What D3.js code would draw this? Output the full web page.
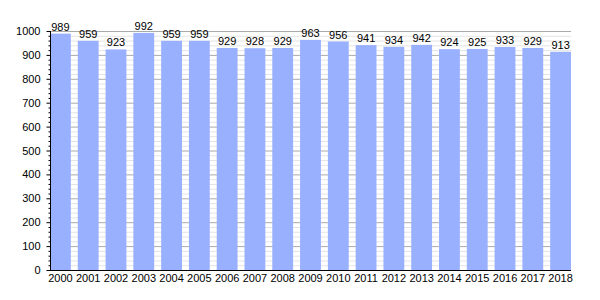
<!DOCTYPE html>
<html><head><meta charset="utf-8">
<script src="https://cdn.jsdelivr.net/npm/d3@7"></script>
<style>body{margin:0;background:#fff}svg{display:block}text{font-family:"Liberation Sans",Arial,sans-serif;font-size:11px;fill:#000}</style>
</head><body><svg id="c" width="600" height="300"></svg>
<script>
const years = ["2000","2001","2002","2003","2004","2005","2006","2007","2008","2009","2010","2011","2012","2013","2014","2015","2016","2017","2018"];
const population = [989,959,923,992,959,959,929,928,929,963,956,941,934,942,924,925,933,929,913];
const yTicks = [0,100,200,300,400,500,600,700,800,900,1000];

(function(){
const svg = d3.select("#c");
const mLeft = 50, mRight = 571, mTop = 31, mBottom = 270;
const x = d3.scaleBand().domain(years).range([mLeft, mRight]).paddingInner(0.25).paddingOuter(0);
const y = d3.scaleLinear().domain([0,1000]).range([mBottom, mTop]);

const minor = d3.range(0, 1001, 20).filter(v => v % 100 !== 0);
svg.append("g").selectAll("line").data(minor).join("line")
  .attr("x1", mLeft).attr("x2", mRight).attr("y1", d => y(d)+0.5).attr("y2", d => y(d)+0.5)
  .attr("stroke", "#e4e4e4").attr("stroke-width", 1);
svg.append("g").selectAll("line").data(yTicks.filter(v => v > 0)).join("line")
  .attr("x1", mLeft).attr("x2", mRight).attr("y1", d => y(d)+0.5).attr("y2", d => y(d)+0.5)
  .attr("stroke", "#aaaaaa").attr("stroke-width", 1);

svg.append("g").selectAll("rect").data(population).join("rect")
  .attr("x", (d,i) => x(years[i])).attr("width", x.bandwidth())
  .attr("y", d => y(d)).attr("height", d => mBottom - y(d))
  .attr("fill", "#99b0ff");

svg.append("g").selectAll("text").data(population).join("text")
  .attr("x", (d,i) => x(years[i]) + x.bandwidth()/2).attr("y", d => y(d) - 3)
  .attr("text-anchor", "middle").text(d => d);

const ya = svg.append("g").attr("transform", `translate(${mLeft+0.5},0)`)
  .call(d3.axisLeft(y).tickValues(yTicks).tickFormat(d3.format("d")).tickSize(4).tickPadding(6));
ya.select(".domain").attr("d", `M0,${mTop}V${mBottom}`).attr("stroke", "#000");
ya.selectAll("text").style("font-size","11px").attr("font-family", null);
svg.append("g").attr("transform", `translate(${mLeft+0.5},0)`)
  .call(d3.axisLeft(y).tickValues(minor).tickSize(2).tickFormat(""))
  .select(".domain").remove();

const xa = svg.append("g").attr("transform", `translate(0,${mBottom+0.5})`)
  .call(d3.axisBottom(x).tickSize(0).tickPadding(4));
xa.select(".domain").attr("d", `M${mLeft},0H${mRight}`).attr("stroke", "#000");
xa.selectAll("text").style("font-size","11px").attr("font-family", null);
})();
</script></body></html>
